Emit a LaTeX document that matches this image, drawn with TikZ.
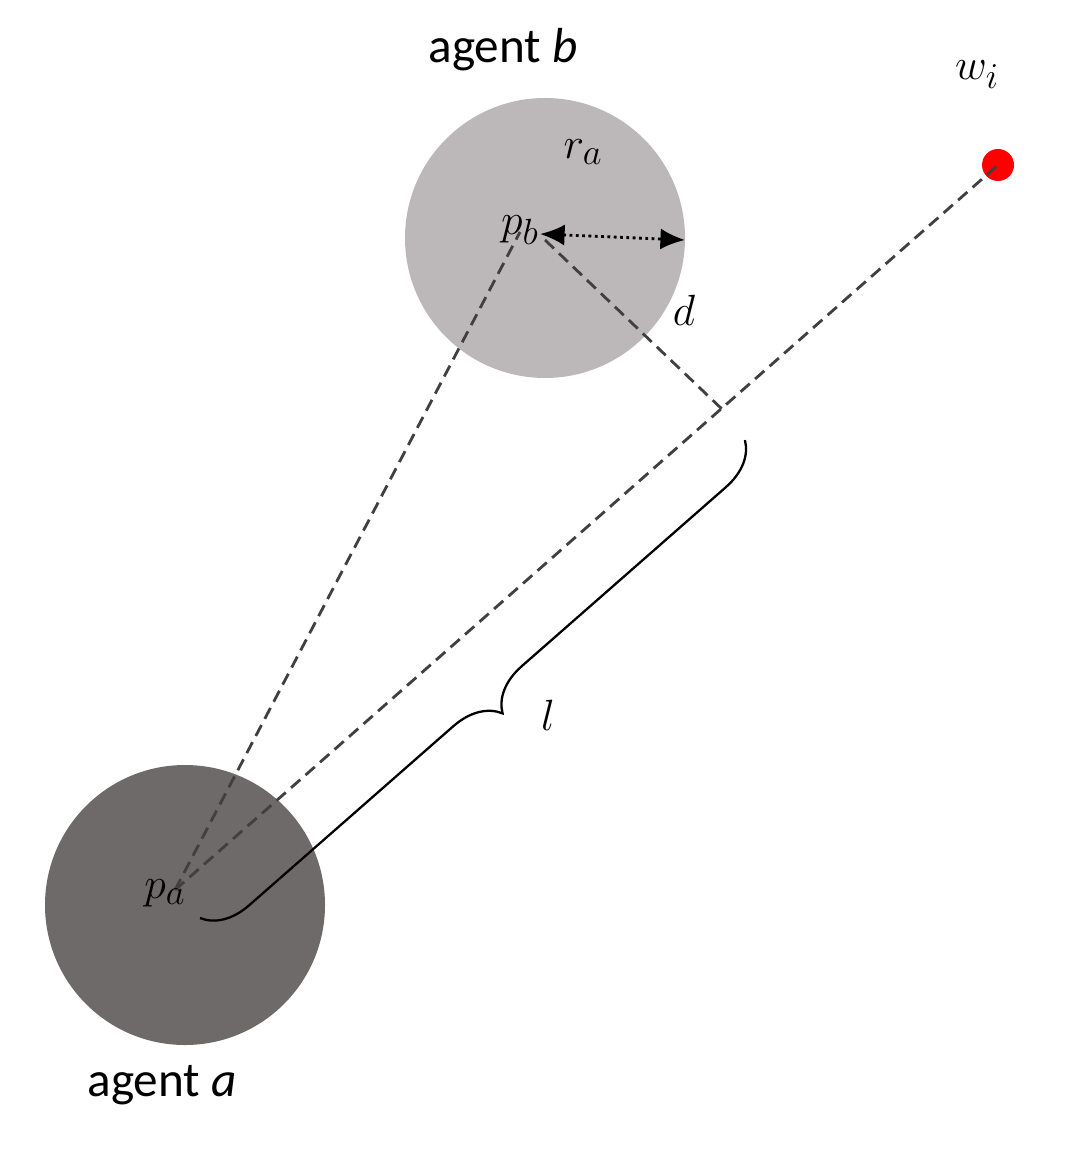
\documentclass[tikz,border=0pt]{standalone}
\usepackage{fontspec}
\setmainfont{Carlito}
\usetikzlibrary{decorations.pathreplacing,arrows.meta}
\definecolor{agA}{HTML}{6F6A6A}
\definecolor{agB}{HTML}{BCB8B9}
\tikzset{
 lbl/.style={font=\fontsize{28}{32}\selectfont, inner sep=0pt},
 dashln/.style={line width=1.6pt, color=black!75, dash pattern=on 7pt off 4pt},
}
\begin{document}
\begin{tikzpicture}[x=0.02cm,y=-0.02cm]
\useasboundingbox (0,0) rectangle (1066,1151);
\fill[agA] (185,905) circle (140);
\fill[agB] (545,238) circle (140);
\fill[red] (998,165) circle (16);
\coordinate (pa) at (175,890);
\coordinate (pb) at (520,232);
\coordinate (pbr) at (545,240);
\coordinate (wi) at (998,165);
\coordinate (foot) at (725,412);
\coordinate (rend) at (685,240);
\coordinate (bs) at (200,918);
\coordinate (be) at (745,440);
\draw[dashln] (pa) -- (wi);
\draw[dashln] (pa) -- (pb);
\draw[dashln] (pbr) -- (foot);
\draw[dotted, line width=1.6pt, {Latex[length=14pt,width=12pt]}-{Latex[length=14pt,width=12pt]}] (540,234) -- (rend);
\draw[line width=1.3pt, decorate, decoration={brace, mirror, amplitude=26pt}] (bs) -- (be);
\node[lbl] (lpa) at (165,893) {$p_a$};
\node[lbl] (lpb) at (520,230) {$p_b$};
\node[lbl] (lra) at (583,152) {$r_a$};
\node[lbl] (ld) at (684,310) {$d$};
\node[lbl] (ll) at (548,715) {$l$};
\node[lbl] (lw) at (977,75) {$w_i$};
\node[lbl] (lb) at (503,50) {agent \textit{b}};
\node[lbl] (la) at (162,1085) {agent \textit{a}};
\end{tikzpicture}
\end{document}
